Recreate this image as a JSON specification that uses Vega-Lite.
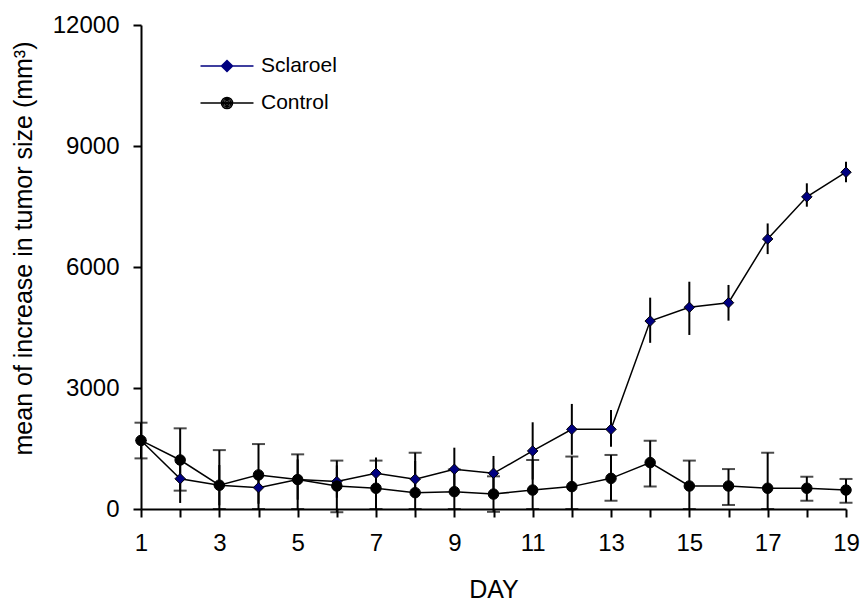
{
  "$schema": "https://vega.github.io/schema/vega-lite/v6.json",
  "width": 705,
  "height": 484,
  "autosize": {"type": "none"},
  "padding": {"left": 141, "top": 25, "right": 15, "bottom": 93},
  "background": "white",
  "config": {
    "view": {"stroke": null},
    "font": "Liberation Sans",
    "axis": {
      "grid": false,
      "domainColor": "black",
      "domainWidth": 2,
      "tickColor": "black",
      "tickWidth": 2,
      "tickSize": 8,
      "labelColor": "black",
      "labelFontSize": 24,
      "labelFont": "Liberation Sans",
      "titleColor": "black",
      "titleFontSize": 25,
      "titleFontWeight": "normal",
      "titleFont": "Liberation Sans"
    },
    "legend": {
      "labelFont": "Liberation Sans",
      "labelFontSize": 21,
      "labelColor": "black"
    }
  },
  "data": {
    "values": [
      {"day": 1, "series": "Sclaroel", "mean": 1700, "lo": 1400, "hi": 2000},
      {"day": 2, "series": "Sclaroel", "mean": 750, "lo": 150, "hi": 1350},
      {"day": 3, "series": "Sclaroel", "mean": 590, "lo": 90, "hi": 1090},
      {"day": 4, "series": "Sclaroel", "mean": 530, "lo": 130, "hi": 930},
      {"day": 5, "series": "Sclaroel", "mean": 730, "lo": 230, "hi": 1230},
      {"day": 6, "series": "Sclaroel", "mean": 680, "lo": 280, "hi": 1080},
      {"day": 7, "series": "Sclaroel", "mean": 885, "lo": 495, "hi": 1275},
      {"day": 8, "series": "Sclaroel", "mean": 740, "lo": 290, "hi": 1190},
      {"day": 9, "series": "Sclaroel", "mean": 985, "lo": 450, "hi": 1520},
      {"day": 10, "series": "Sclaroel", "mean": 885, "lo": 455, "hi": 1315},
      {"day": 11, "series": "Sclaroel", "mean": 1440, "lo": 730, "hi": 2150},
      {"day": 12, "series": "Sclaroel", "mean": 1975, "lo": 1345, "hi": 2605},
      {"day": 13, "series": "Sclaroel", "mean": 1975, "lo": 1545, "hi": 2455},
      {"day": 14, "series": "Sclaroel", "mean": 4660, "lo": 4120, "hi": 5240},
      {"day": 15, "series": "Sclaroel", "mean": 5000, "lo": 4315, "hi": 5635},
      {"day": 16, "series": "Sclaroel", "mean": 5115, "lo": 4670, "hi": 5555},
      {"day": 17, "series": "Sclaroel", "mean": 6695, "lo": 6320, "hi": 7080},
      {"day": 18, "series": "Sclaroel", "mean": 7740, "lo": 7495, "hi": 8075},
      {"day": 19, "series": "Sclaroel", "mean": 8350, "lo": 8100, "hi": 8610},
      {"day": 1, "series": "Control", "mean": 1700, "lo": 1255, "hi": 2140},
      {"day": 2, "series": "Control", "mean": 1215, "lo": 455, "hi": 2000},
      {"day": 3, "series": "Control", "mean": 590, "lo": 0, "hi": 1460},
      {"day": 4, "series": "Control", "mean": 845, "lo": 0, "hi": 1610},
      {"day": 5, "series": "Control", "mean": 730, "lo": 0, "hi": 1355},
      {"day": 6, "series": "Control", "mean": 570, "lo": -80, "hi": 1200},
      {"day": 7, "series": "Control", "mean": 515, "lo": 0, "hi": 1200},
      {"day": 8, "series": "Control", "mean": 405, "lo": 0, "hi": 1395},
      {"day": 9, "series": "Control", "mean": 430, "lo": 0, "hi": 980},
      {"day": 10, "series": "Control", "mean": 370, "lo": -70, "hi": 810},
      {"day": 11, "series": "Control", "mean": 470, "lo": 0, "hi": 1215},
      {"day": 12, "series": "Control", "mean": 555, "lo": 0, "hi": 1300},
      {"day": 13, "series": "Control", "mean": 760, "lo": 205, "hi": 1340},
      {"day": 14, "series": "Control", "mean": 1150, "lo": 555, "hi": 1695},
      {"day": 15, "series": "Control", "mean": 570, "lo": 0, "hi": 1200},
      {"day": 16, "series": "Control", "mean": 570, "lo": 100, "hi": 990},
      {"day": 17, "series": "Control", "mean": 515, "lo": 0, "hi": 1395},
      {"day": 18, "series": "Control", "mean": 515, "lo": 205, "hi": 800},
      {"day": 19, "series": "Control", "mean": 470, "lo": 155, "hi": 745}
    ]
  },
  "encoding": {
    "x": {
      "field": "day",
      "type": "quantitative",
      "scale": {"domain": [1, 19], "nice": false, "zero": false},
      "axis": {
        "title": "DAY",
        "values": [1,2,3,4,5,6,7,8,9,10,11,12,13,14,15,16,17,18,19],
        "labelExpr": "datum.value % 2 == 1 ? datum.label : ''",
        "labelPadding": 14,
        "titlePadding": 22,
        "labelFlush": false,
        "labelOverlap": false
      }
    }
  },
  "layer": [
    {
      "mark": {"type": "point", "filled": false, "size": 0, "strokeWidth": 1.5},
      "encoding": {
        "y": {
          "field": "mean",
          "type": "quantitative",
          "scale": {"domain": [0, 12000], "nice": false},
          "axis": {
            "title": "mean of increase in tumor size (mm³)",
            "values": [0, 3000, 6000, 9000, 12000],
            "format": "d",
            "labelPadding": 14,
            "titlePadding": 16,
            "titleY": 223
          }
        },
        "shape": {
          "field": "series",
          "scale": {
            "domain": ["Sclaroel", "Control"],
            "range": [
              "M-2,0L2,0M0,-0.42L0.42,0L0,0.42L-0.42,0ZM0,-0.3L0.3,0L0,0.3L-0.3,0ZM0,-0.18L0.18,0L0,0.18L-0.18,0ZM0,-0.06L0.06,0L0,0.06L-0.06,0Z",
              "M-2,0L2,0M-0.42,0A0.42,0.42,0,1,1,0.42,0A0.42,0.42,0,1,1,-0.42,0ZM-0.3,0A0.3,0.3,0,1,1,0.3,0A0.3,0.3,0,1,1,-0.3,0ZM-0.18,0A0.18,0.18,0,1,1,0.18,0A0.18,0.18,0,1,1,-0.18,0ZM-0.06,0A0.06,0.06,0,1,1,0.06,0A0.06,0.06,0,1,1,-0.06,0Z"
            ]
          },
          "legend": {
            "title": null,
            "orient": "none",
            "legendX": 72,
            "legendY": 27,
            "padding": 0,
            "symbolSize": 702,
            "symbolOpacity": 1,
            "symbolStrokeWidth": 1.5,
            "labelOffset": 20,
            "rowPadding": 13
          }
        },
        "stroke": {
          "field": "series",
          "scale": {"domain": ["Sclaroel", "Control"], "range": ["#000080", "#000000"]},
          "legend": {
            "title": null,
            "orient": "none",
            "legendX": 72,
            "legendY": 27,
            "padding": 0,
            "symbolSize": 702,
            "symbolOpacity": 1,
            "symbolStrokeWidth": 1.5,
            "labelOffset": 20,
            "rowPadding": 13
          }
        }
      }
    },
    {
      "mark": {"type": "rule", "color": "black", "strokeWidth": 2},
      "encoding": {
        "y": {"field": "lo", "type": "quantitative"},
        "y2": {"field": "hi"}
      }
    },
    {
      "transform": [
        {"filter": "datum.series == 'Control'"},
        {"fold": ["lo", "hi"], "as": ["end", "val"]}
      ],
      "mark": {"type": "tick", "color": "black", "orient": "horizontal", "size": 13, "thickness": 2},
      "encoding": {
        "y": {"field": "val", "type": "quantitative"}
      }
    },
    {
      "mark": {"type": "line", "color": "black", "strokeWidth": 1.5},
      "encoding": {
        "y": {"field": "mean", "type": "quantitative"},
        "detail": {"field": "series"}
      }
    },
    {
      "transform": [{"filter": "datum.series == 'Sclaroel'"}],
      "mark": {"type": "point", "shape": "diamond", "filled": true, "fill": "#000080", "stroke": "black", "strokeWidth": 1, "size": 110, "opacity": 1},
      "encoding": {
        "y": {"field": "mean", "type": "quantitative"}
      }
    },
    {
      "transform": [{"filter": "datum.series == 'Control'"}],
      "mark": {"type": "point", "shape": "circle", "filled": true, "fill": "#000000", "stroke": "black", "strokeWidth": 1, "size": 110, "opacity": 1},
      "encoding": {
        "y": {"field": "mean", "type": "quantitative"}
      }
    }
  ]
}
